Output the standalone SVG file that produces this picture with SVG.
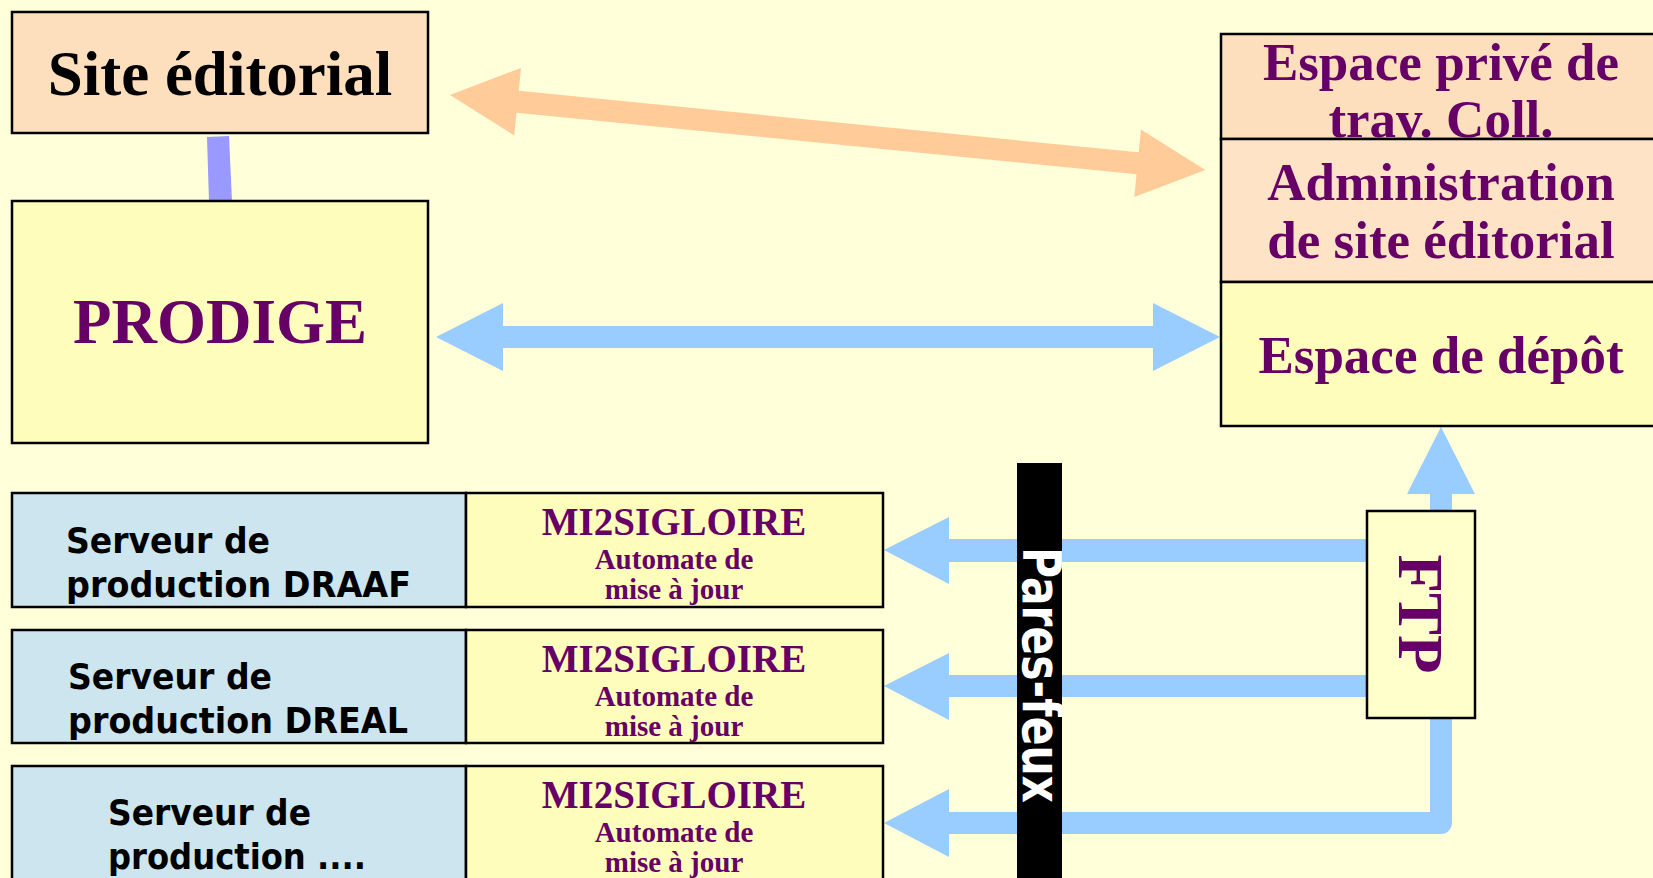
<svg xmlns="http://www.w3.org/2000/svg" width="1653" height="878" viewBox="0 0 1653 878">
<defs>
<style>
.bx{stroke:#000;stroke-width:2.5}
.ser{font-family:"Liberation Serif","Times New Roman",serif;font-weight:bold;text-anchor:middle}
.pur{fill:#660066}
.san{font-family:"DejaVu Sans",Verdana,sans-serif;font-weight:bold;font-size:36px;fill:#000}
.blue{fill:#99CCFF}
</style>
<clipPath id="barclip"><rect x="1017" y="463" width="45" height="415"/></clipPath>
</defs>
<rect width="1653" height="878" fill="#FFFFDA"/>

<g id="connectors">
<polygon points="207,137 229,136 232,202 209,202" fill="#9999FF"/>
<polygon transform="translate(450,95) rotate(5.67)" fill="#FFCC99" points="0,0 68,-34 68,-11 691,-11 691,-34 759,0 691,34 691,11 68,11 68,34"/>
<polygon class="blue" points="436,337 503,303 503,326 1153,326 1153,303 1220,337 1153,371 1153,348 503,348 503,371"/>
<polygon class="blue" points="1441,427 1475,494 1452,494 1452,512 1430,512 1430,494 1407,494"/>
<polygon class="blue" points="884,550 949,517 949,539 1370,539 1370,562 949,562 949,584"/>
<polygon class="blue" points="884,686 949,653 949,675 1370,675 1370,697 949,697 949,720"/>
<path d="M1441,715 L1441,823 L945,823" fill="none" stroke="#99CCFF" stroke-width="22" stroke-linejoin="round"/>
<polygon class="blue" points="884,823 949,789 949,857"/>
</g>

<g id="site-editorial">
<rect class="bx" x="12" y="12" width="416" height="121" fill="#FDDFBE"/>
<text class="ser" x="220" y="95" font-size="63" fill="#000">Site éditorial</text>
</g>

<g id="prodige">
<rect class="bx" x="12" y="201" width="416" height="242" fill="#FFFDBB"/>
<text class="ser pur" x="220" y="343" font-size="63">PRODIGE</text>
</g>

<g id="espace-prive">
<rect class="bx" x="1221" y="34" width="445" height="105" fill="#FDDFBE"/>
<text class="ser pur" x="1441" y="80" font-size="53">Espace privé de</text>
<text class="ser pur" x="1441" y="137" font-size="53">trav. Coll.</text>
</g>
<g id="administration">
<rect class="bx" x="1221" y="139" width="445" height="143" fill="#FEE3C6"/>
<text class="ser pur" x="1441" y="200" font-size="53">Administration</text>
<text class="ser pur" x="1441" y="258" font-size="53">de site éditorial</text>
</g>
<g id="espace-depot">
<rect class="bx" x="1221" y="282" width="445" height="144" fill="#FFFDBB"/>
<text class="ser pur" x="1441" y="373" font-size="53">Espace de dépôt</text>
</g>

<g id="ftp">
<rect class="bx" x="1367" y="511" width="108" height="207" fill="#FFFFCC"/>
<text class="ser pur" transform="translate(1399,614) rotate(90)" x="0" y="0" font-size="63">FTP</text>
</g>

<g id="pares-feux">
<rect x="1017" y="463" width="45" height="420" fill="#000"/>
<g clip-path="url(#barclip)">
<text transform="translate(1023,675) rotate(90)" x="0" y="0" font-family="'DejaVu Sans',Verdana,sans-serif" font-weight="bold" font-size="54" fill="#fff" text-anchor="middle" textLength="256" lengthAdjust="spacingAndGlyphs">Pares-feux</text>
</g>
</g>

<g id="serveur-draaf">
<rect class="bx" x="12" y="493" width="454" height="114" fill="#CCE5EE"/>
<text class="san" x="66" y="553" textLength="204" lengthAdjust="spacingAndGlyphs">Serveur de</text>
<text class="san" x="66" y="597" textLength="345" lengthAdjust="spacingAndGlyphs">production DRAAF</text>
</g>
<g id="automate-1">
<rect class="bx" x="466" y="493" width="417" height="114" fill="#FFFDBB"/>
<text class="ser pur" x="674" y="535" font-size="39">MI2SIGLOIRE</text>
<text class="ser pur" x="674" y="569" font-size="29">Automate de</text>
<text class="ser pur" x="674" y="599" font-size="29">mise à jour</text>
</g>

<g id="serveur-dreal">
<rect class="bx" x="12" y="630" width="454" height="113" fill="#CCE5EE"/>
<text class="san" x="68" y="689" textLength="204" lengthAdjust="spacingAndGlyphs">Serveur de</text>
<text class="san" x="68" y="733" textLength="340" lengthAdjust="spacingAndGlyphs">production DREAL</text>
</g>
<g id="automate-2">
<rect class="bx" x="466" y="630" width="417" height="113" fill="#FFFDBB"/>
<text class="ser pur" x="674" y="672" font-size="39">MI2SIGLOIRE</text>
<text class="ser pur" x="674" y="706" font-size="29">Automate de</text>
<text class="ser pur" x="674" y="736" font-size="29">mise à jour</text>
</g>

<g id="serveur-autre">
<rect class="bx" x="12" y="766" width="454" height="125" fill="#CCE5EE"/>
<text class="san" x="108" y="825" textLength="203" lengthAdjust="spacingAndGlyphs">Serveur de</text>
<text class="san" x="108" y="869" textLength="258" lengthAdjust="spacingAndGlyphs">production ....</text>
</g>
<g id="automate-3">
<rect class="bx" x="466" y="766" width="417" height="125" fill="#FFFDBB"/>
<text class="ser pur" x="674" y="808" font-size="39">MI2SIGLOIRE</text>
<text class="ser pur" x="674" y="842" font-size="29">Automate de</text>
<text class="ser pur" x="674" y="872" font-size="29">mise à jour</text>
</g>
</svg>
